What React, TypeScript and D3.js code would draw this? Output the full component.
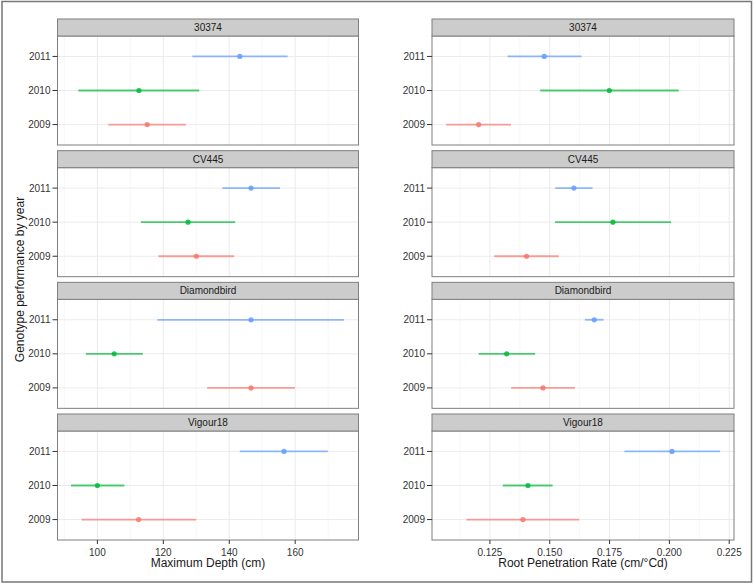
import React from "react";
import * as d3 from "d3";

const genotypes = ["30374", "CV445", "Diamondbird", "Vigour18"];
const years = ["2011", "2010", "2009"];
const yearColors = ["#619CFF", "#00BA38", "#F8766D"];

// per genotype: [2011, 2010, 2009]
const depthMean = [
  [143.2, 112.6, 115.1],
  [146.6, 127.5, 130.0],
  [146.6, 105.1, 146.6],
  [156.6, 100.0, 112.5],
];
const depthLow = [
  [128.8, 94.2, 103.3],
  [137.9, 113.2, 118.5],
  [118.2, 96.5, 133.3],
  [143.2, 92.0, 95.2],
];
const depthHigh = [
  [157.7, 130.9, 126.8],
  [155.4, 141.8, 141.5],
  [174.8, 113.8, 159.9],
  [169.9, 108.2, 130.0],
];

const rateMean = [
  [0.1477, 0.1749, 0.1203],
  [0.1601, 0.1764, 0.1403],
  [0.1686, 0.132, 0.1472],
  [0.2011, 0.1409, 0.1388],
];
const rateLow = [
  [0.1324, 0.146, 0.1067],
  [0.1523, 0.1522, 0.1268],
  [0.1647, 0.1203, 0.1339],
  [0.1812, 0.1304, 0.1152],
];
const rateHigh = [
  [0.1633, 0.2039, 0.1338],
  [0.1679, 0.2007, 0.1538],
  [0.1725, 0.1439, 0.1605],
  [0.2212, 0.1512, 0.1623],
];

const depthTicks = [100, 120, 140, 160];
const depthMinor = [90, 110, 130, 150, 170];
const rateTicks = [0.125, 0.15, 0.175, 0.2, 0.225];
const rateMinor = [0.1125, 0.1375, 0.1625, 0.1875, 0.2125];

const W = 754;
const H = 584;
const STRIP_H = 17;
const BODY_H = 109;
const PANEL_STEP = 131.67;
const FIRST_TOP = 19;

type ColSpec = {
  x: d3.ScaleLinear<number, number>;
  mean: number[][];
  low: number[][];
  high: number[][];
  ticks: number[];
  minor: number[];
  fmt: (v: number) => string;
  title: string;
};

function Column({ spec }: { spec: ColSpec }) {
  const { x } = spec;
  const [x0, x1] = x.range();
  const bottom = FIRST_TOP + 3 * PANEL_STEP + STRIP_H + BODY_H;
  return (
    <g>
      {genotypes.map((g, gi) => {
        const top = FIRST_TOP + gi * PANEL_STEP;
        const bTop = top + STRIP_H;
        const y = d3
          .scalePoint<string>()
          .domain(years)
          .range([bTop, bTop + BODY_H])
          .padding(0.6);
        return (
          <g key={g}>
            <rect x={x0} y={bTop} width={x1 - x0} height={BODY_H} fill="#fff" />
            {spec.minor.map((v) => (
              <line key={"m" + v} x1={x(v)} x2={x(v)} y1={bTop} y2={bTop + BODY_H} stroke="#f2f2f2" strokeWidth={0.6} />
            ))}
            {spec.ticks.map((v) => (
              <line key={"t" + v} x1={x(v)} x2={x(v)} y1={bTop} y2={bTop + BODY_H} stroke="#ebebeb" strokeWidth={1} />
            ))}
            {years.map((yr) => (
              <line key={"h" + yr} x1={x0} x2={x1} y1={y(yr)} y2={y(yr)} stroke="#ebebeb" strokeWidth={1} />
            ))}
            {years.map((yr, yi) => (
              <g key={"d" + yr}>
                <line
                  x1={x(spec.low[gi][yi])}
                  x2={x(spec.high[gi][yi])}
                  y1={y(yr)}
                  y2={y(yr)}
                  stroke={yearColors[yi]}
                  strokeOpacity={0.7}
                  strokeWidth={1.8}
                />
                <circle cx={x(spec.mean[gi][yi])} cy={y(yr)} r={2.6} fill={yearColors[yi]} fillOpacity={0.85} />
              </g>
            ))}
            <rect x={x0} y={bTop} width={x1 - x0} height={BODY_H} fill="none" stroke="#7f7f7f" strokeWidth={1} />
            <rect x={x0} y={top} width={x1 - x0} height={STRIP_H} fill="#cccccc" stroke="#7f7f7f" strokeWidth={1} />
            <text x={(x0 + x1) / 2} y={top + STRIP_H / 2} dy="0.35em" textAnchor="middle" fontSize={10} fill="#1a1a1a" fontFamily="Liberation Sans, Arial, sans-serif">
              {g}
            </text>
            {years.map((yr) => (
              <g key={"yt" + yr}>
                <line x1={x0 - 5} x2={x0} y1={y(yr)} y2={y(yr)} stroke="#333" strokeWidth={1} />
                <text x={x0 - 7} y={y(yr)} dy="0.35em" textAnchor="end" fontSize={10} fill="#333" fontFamily="Liberation Sans, Arial, sans-serif">
                  {yr}
                </text>
              </g>
            ))}
          </g>
        );
      })}
      {spec.ticks.map((v) => (
        <g key={"xt" + v}>
          <line x1={x(v)} x2={x(v)} y1={bottom} y2={bottom + 4} stroke="#333" strokeWidth={1} />
          <text x={x(v)} y={bottom + 12} dy="0.35em" textAnchor="middle" fontSize={10} fill="#333" fontFamily="Liberation Sans, Arial, sans-serif">
            {spec.fmt(v)}
          </text>
        </g>
      ))}
      <text x={(x0 + x1) / 2} y={bottom + 27} textAnchor="middle" fontSize={12} fill="#1a1a1a" fontFamily="Liberation Sans, Arial, sans-serif">
        {spec.title}
      </text>
    </g>
  );
}

export default function App() {
  const xLeft = d3.scaleLinear().domain([87.9, 179.2]).range([57.5, 358.5]);
  const xRight = d3.scaleLinear().domain([0.1008, 0.227]).range([432, 734]);
  const left: ColSpec = {
    x: xLeft,
    mean: depthMean,
    low: depthLow,
    high: depthHigh,
    ticks: depthTicks,
    minor: depthMinor,
    fmt: (v) => d3.format("d")(v),
    title: "Maximum Depth (cm)",
  };
  const right: ColSpec = {
    x: xRight,
    mean: rateMean,
    low: rateLow,
    high: rateHigh,
    ticks: rateTicks,
    minor: rateMinor,
    fmt: (v) => d3.format(".3f")(v),
    title: "Root Penetration Rate (cm/\u00B0Cd)",
  };
  const yMid = FIRST_TOP + (3 * PANEL_STEP + STRIP_H + BODY_H) / 2;
  return (
    <svg width={W} height={H} style={{ position: "absolute", left: 0, top: 0 }}>
      <rect x={0} y={0} width={W} height={H} fill="#fff" />
      <rect x={2} y={1.5} width={749.5} height={580.5} fill="none" stroke="#777" strokeWidth={1.5} />
      <Column spec={left} />
      <Column spec={right} />
      <text
        transform={`translate(20,${yMid}) rotate(-90)`}
        textAnchor="middle"
        dy="0.35em"
        fontSize={12}
        fill="#1a1a1a"
        fontFamily="Liberation Sans, Arial, sans-serif"
      >
        Genotype performance by year
      </text>
    </svg>
  );
}
